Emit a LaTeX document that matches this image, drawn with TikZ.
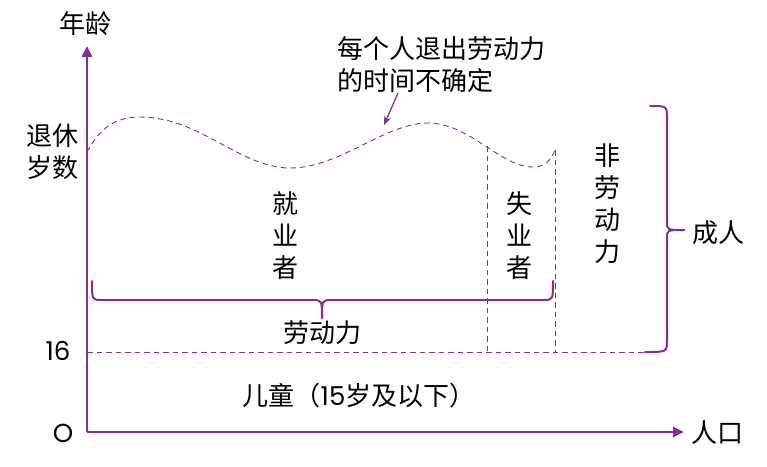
\documentclass[tikz,border=0pt]{standalone}
\usepackage{fontspec}
\setmainfont{Noto Sans CJK SC}
\newfontfamily\digitfont{Poppins}
\usetikzlibrary{arrows.meta}
\definecolor{plum}{RGB}{130,48,145}

\begin{document}
\begin{tikzpicture}[x=1pt,y=-1pt]
\tikzstyle{every node}+=[inner sep=0pt,font=\fontsize{26}{32}\selectfont]
\tikzstyle{axis}=[draw=plum,line width=2.6pt,-{Triangle[length=11pt,width=10pt]}]
\tikzstyle{guide}=[draw=plum,line width=0.9pt,dash pattern=on 5.5pt off 4pt]
\tikzstyle{curly}=[draw=plum,line width=2pt,line cap=round]
\useasboundingbox (0,0) rectangle (767,466);
% axes
\coordinate (origin) at (87,432);
\coordinate (agetop) at (87,46);
\coordinate (popend) at (684,432);
\draw[axis] (origin) -- (agetop);
\draw[axis] (origin) -- (popend);
\node (age) at (85,24) {年龄};
\node (pop) at (717,433) {人口};
\node (zero) at (63,433) {\digitfont O};
\node (sixteen) at (58,351) {\digitfont 16};
\node (retire) at (52,152) [align=center] {退休\\岁数};
% age 16
\coordinate (g16) at (87,352);
\coordinate (g16end) at (647,352);
\draw[guide] (g16) -- (g16end);
% retirement age wave
\coordinate (wstart) at (87,152);
\coordinate (wend) at (555,150);
\draw[guide] (wstart) .. controls (100,128) and (115,117) .. (140,117)
  .. controls (200,117) and (240,168) .. (290,168)
  .. controls (340,168) and (385,123) .. (428,123)
  .. controls (470,123) and (500,167) .. (533,167)
  .. controls (545,167) and (551,160) .. (wend);
\coordinate (u1) at (487,146);
\coordinate (u1b) at (487,352);
\coordinate (u2b) at (555,352);
\draw[guide] (u1) -- (u1b);
\draw[guide] (wend) -- (u2b);
% groups
\node (employed) at (285,236) [align=center] {就\\业\\者};
\node (jobless) at (519,236) [align=center] {失\\业\\者};
\node (outside) at (607,204) [align=center] {非\\劳\\动\\力};
\node (labour) at (322,333) {劳动力};
\node (child) at (359,396) {儿童（{\digitfont 15}岁及以下）};
\node (adult) at (718,233) {成人};
% note
\node (note) at (337,65) [anchor=west,align=left] {每个人退出劳动力\\的时间不确定};
\coordinate (notetail) at (398,93);
\coordinate (notefoot) at (384,125);
\draw[plum,line width=1.3pt,-{Stealth[length=9pt,width=7pt]}] (notetail) -- (notefoot);
% labour force brace
\coordinate (lbL) at (92,281);
\coordinate (lbR) at (553,281);
\coordinate (lbTip) at (322,318);
\draw[curly] (lbL) .. controls (92,300) .. (102,300) -- (312,300) .. controls (322,300) .. (lbTip);
\draw[curly] (lbR) .. controls (553,300) .. (543,300) -- (332,300) .. controls (322,300) .. (lbTip);
% adult brace
\coordinate (rbTop) at (650,106);
\coordinate (rbBot) at (645,352);
\coordinate (rbTip) at (684,230);
\draw[curly] (rbTop) .. controls (667,106) .. (667,118) -- (667,222) .. controls (667,230) .. (rbTip);
\draw[curly] (rbBot) .. controls (667,352) .. (667,340) -- (667,238) .. controls (667,230) .. (rbTip);
\end{tikzpicture}
\end{document}
